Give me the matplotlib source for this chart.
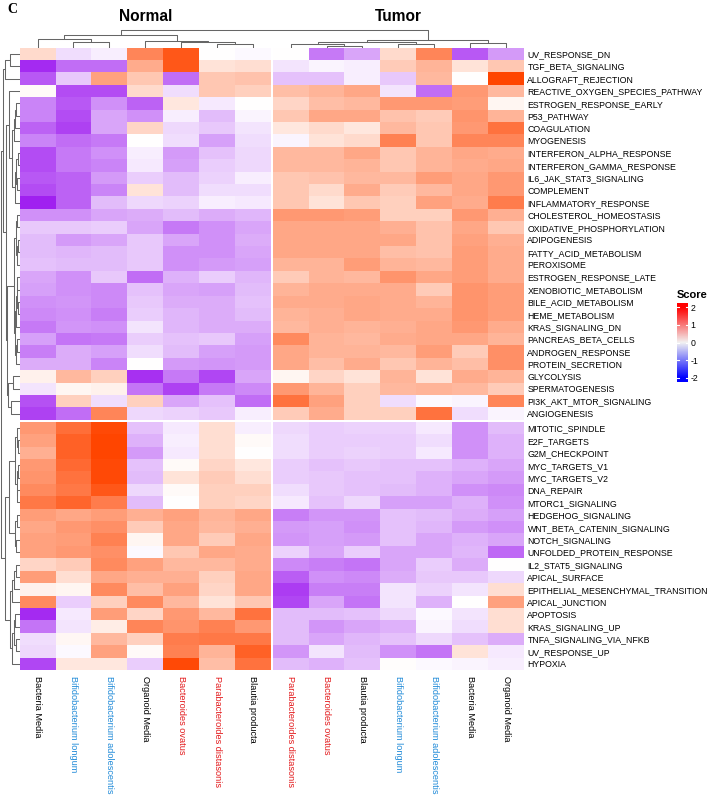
import numpy as np
import matplotlib
matplotlib.use('Agg')
import matplotlib.pyplot as plt
from matplotlib.colors import LinearSegmentedColormap

plt.rcParams['font.family'] = ['Liberation Sans', 'DejaVu Sans']

## hallmark pathways (rows, top to bottom)
pathways = ['UV_RESPONSE_DN', 'TGF_BETA_SIGNALING', 'ALLOGRAFT_REJECTION',
            'REACTIVE_OXYGEN_SPECIES_PATHWAY', 'ESTROGEN_RESPONSE_EARLY', 'P53_PATHWAY',
            'COAGULATION', 'MYOGENESIS', 'INTERFERON_ALPHA_RESPONSE',
            'INTERFERON_GAMMA_RESPONSE', 'IL6_JAK_STAT3_SIGNALING', 'COMPLEMENT',
            'INFLAMMATORY_RESPONSE', 'CHOLESTEROL_HOMEOSTASIS', 'OXIDATIVE_PHOSPHORYLATION',
            'ADIPOGENESIS', 'FATTY_ACID_METABOLISM', 'PEROXISOME', 'ESTROGEN_RESPONSE_LATE',
            'XENOBIOTIC_METABOLISM', 'BILE_ACID_METABOLISM', 'HEME_METABOLISM',
            'KRAS_SIGNALING_DN', 'PANCREAS_BETA_CELLS', 'ANDROGEN_RESPONSE',
            'PROTEIN_SECRETION', 'GLYCOLYSIS', 'SPERMATOGENESIS', 'PI3K_AKT_MTOR_SIGNALING',
            'ANGIOGENESIS', 'MITOTIC_SPINDLE', 'E2F_TARGETS', 'G2M_CHECKPOINT',
            'MYC_TARGETS_V1', 'MYC_TARGETS_V2', 'DNA_REPAIR', 'MTORC1_SIGNALING',
            'HEDGEHOG_SIGNALING', 'WNT_BETA_CATENIN_SIGNALING', 'NOTCH_SIGNALING',
            'UNFOLDED_PROTEIN_RESPONSE', 'IL2_STAT5_SIGNALING', 'APICAL_SURFACE',
            'EPITHELIAL_MESENCHYMAL_TRANSITION', 'APICAL_JUNCTION', 'APOPTOSIS',
            'KRAS_SIGNALING_UP', 'TNFA_SIGNALING_VIA_NFKB', 'UV_RESPONSE_UP', 'HYPOXIA']

## samples (columns)
normal_samples = ['Bacteria Media', 'Bifidobacterium longum', 'Bifidobacterium adolescentis',
                  'Organoid Media', 'Bacteroides ovatus', 'Parabacteroides distasonis',
                  'Blautia producta']
tumor_samples = ['Parabacteroides distasonis', 'Bacteroides ovatus', 'Blautia producta',
                 'Bifidobacterium longum', 'Bifidobacterium adolescentis', 'Bacteria Media',
                 'Organoid Media']
genus_colors = {'Bifidobacterium': '#1f8ad8', 'Bacteroides': '#e31a1c',
                'Parabacteroides': '#e31a1c'}

## scores (rows = pathways)
normal_scores = [
    [0.4, -0.3, -0.15, 1.3, 1.8, 0.0, -0.05],
    [-1.9, -1.3, -1.3, 0.9, 1.8, 0.3, 0.35],
    [-1.5, -0.5, 1.0, 0.6, -1.3, 0.6, 0.65],
    [0.05, -1.6, -1.6, 0.4, -0.3, 0.6, 0.5],
    [-1.1, -1.5, -1.0, -1.4, 0.25, -0.2, 0.0],
    [-1.1, -1.6, -0.8, -1.0, -0.15, -0.6, -0.1],
    [-1.4, -1.7, -0.8, 0.45, -0.35, -0.5, -0.25],
    [-1.1, -1.3, -1.2, 0.0, -0.3, -0.85, -0.3],
    [-1.6, -1.2, -1.0, -0.15, -0.9, -0.55, -0.35],
    [-1.6, -1.2, -1.1, -0.2, -0.85, -0.45, -0.35],
    [-1.5, -1.4, -0.9, -0.45, -0.6, -0.4, -0.15],
    [-1.6, -1.4, -1.1, 0.3, -0.6, -0.3, -0.3],
    [-2.0, -1.4, -0.6, -0.35, -0.4, -0.15, -0.2],
    [-1.0, -1.0, -0.8, -0.75, -0.6, -0.75, -0.65],
    [-0.5, -0.5, -0.45, -0.8, -1.2, -1.0, -0.8],
    [-0.6, -0.9, -0.8, -0.5, -0.8, -1.0, -0.75],
    [-0.6, -0.65, -0.6, -0.5, -1.0, -1.0, -0.8],
    [-0.55, -0.6, -0.6, -0.5, -1.0, -0.9, -0.85],
    [-0.8, -1.0, -0.5, -1.3, -0.7, -0.45, -0.65],
    [-0.85, -1.0, -1.05, -0.55, -0.8, -0.85, -0.6],
    [-1.0, -0.95, -1.05, -0.5, -0.75, -0.75, -0.55],
    [-1.05, -1.0, -1.15, -0.45, -0.65, -0.75, -0.6],
    [-1.2, -0.95, -1.0, -0.25, -0.65, -0.75, -0.75],
    [-0.85, -1.25, -1.2, -0.45, -0.55, -0.5, -0.85],
    [-1.15, -0.75, -0.85, -0.3, -0.6, -0.85, -0.9],
    [-0.75, -0.75, -1.1, 0.0, -0.9, -0.95, -0.9],
    [0.15, 0.75, 0.5, -1.85, -1.2, -1.65, -0.8],
    [-0.25, 0.1, 0.15, -1.25, -1.7, -1.2, -1.05],
    [-1.55, 0.5, -0.3, 0.5, -0.8, -0.55, -1.3],
    [-1.7, -1.3, 1.3, -0.35, -0.4, -0.5, -0.15],
    [1.1, 1.55, 1.95, -0.55, -0.2, 0.35, -0.15],
    [1.0, 1.7, 2.0, -0.7, -0.15, 0.35, 0.05],
    [0.85, 1.7, 2.0, -0.9, -0.2, 0.35, 0.0],
    [1.1, 1.6, 1.95, -0.55, 0.05, 0.45, 0.25],
    [1.15, 1.5, 1.95, -0.6, 0.3, 0.55, 0.35],
    [1.25, 1.45, 1.8, -0.35, 0.05, 0.5, 0.5],
    [1.45, 1.65, 1.4, -0.6, 0.0, 0.5, 0.45],
    [1.05, 0.95, 1.05, 0.85, 1.0, 0.8, 0.95],
    [0.95, 1.1, 1.2, 0.55, 0.95, 0.75, 0.85],
    [1.0, 1.05, 1.35, 0.1, 0.95, 0.55, 0.95],
    [1.0, 1.1, 1.2, -0.05, 0.6, 0.95, 0.9],
    [0.45, 0.55, 1.25, 1.0, 0.75, 0.75, 0.9],
    [1.05, 0.35, 0.95, 0.85, 0.85, 0.5, 0.95],
    [0.15, 0.1, 1.25, 0.7, 1.0, 0.45, 0.95],
    [1.25, -0.45, 0.5, 1.25, 0.75, 0.3, 0.6],
    [-1.9, -0.2, 1.05, 0.45, 1.1, 0.75, 1.5],
    [-1.25, -0.25, 0.2, 1.3, 1.15, 1.35, 1.1],
    [-0.3, 0.08, 0.75, 0.5, 1.4, 1.45, 1.45],
    [-0.35, -0.05, 1.0, 0.05, 1.35, 0.8, 1.7],
    [-1.65, 0.25, 0.25, -0.45, 1.95, 0.7, 1.5],
]
tumor_scores = [
    [0.0, -1.2, -0.8, 0.4, 1.3, -1.5, -0.9],
    [-0.25, -0.1, -0.15, 0.55, 0.8, 0.3, 0.6],
    [-0.55, -0.55, -0.15, -0.5, 0.75, 0.0, 2.0],
    [0.7, 0.8, 0.95, -0.25, -1.3, 1.1, 0.75],
    [0.45, 0.7, 0.75, 1.1, 1.1, 1.05, 0.1],
    [0.6, 0.95, 0.95, 0.65, 0.55, 1.15, 0.8],
    [0.25, 0.4, 0.25, 0.75, 0.6, 1.1, 1.5],
    [-0.1, 0.3, 0.4, 1.35, 0.6, 1.3, 1.3],
    [0.75, 0.75, 0.95, 0.6, 0.8, 0.95, 0.9],
    [0.75, 0.75, 0.8, 0.6, 0.8, 0.9, 0.95],
    [0.6, 0.65, 0.75, 0.75, 1.05, 0.95, 1.1],
    [0.6, 0.4, 0.9, 0.55, 0.75, 0.95, 1.1],
    [0.6, 0.3, 0.6, 0.5, 1.0, 0.9, 1.4],
    [1.1, 1.1, 1.05, 0.5, 0.5, 1.1, 0.85],
    [0.95, 0.95, 0.95, 0.85, 0.65, 0.95, 0.6],
    [0.95, 0.95, 0.95, 0.95, 0.65, 1.0, 0.85],
    [0.95, 0.95, 0.95, 0.7, 0.65, 1.05, 0.9],
    [0.8, 0.8, 1.05, 0.8, 0.75, 1.05, 0.9],
    [0.55, 0.8, 0.75, 1.15, 0.95, 1.05, 0.9],
    [0.8, 0.9, 0.9, 0.9, 0.55, 1.15, 1.05],
    [0.9, 0.9, 0.95, 0.9, 0.8, 1.15, 1.05],
    [0.8, 0.85, 0.95, 0.9, 0.9, 1.15, 1.05],
    [0.75, 0.85, 0.8, 0.85, 0.95, 1.1, 0.9],
    [1.25, 0.8, 0.75, 0.9, 0.95, 0.95, 0.8],
    [0.95, 0.8, 0.8, 0.75, 1.05, 0.55, 1.2],
    [0.95, 0.7, 0.9, 0.6, 0.8, 0.7, 1.2],
    [0.1, 0.45, 0.3, 0.8, 0.3, 0.9, 0.8],
    [1.1, 0.8, 0.5, 0.75, 0.8, 0.75, 0.55],
    [1.5, 1.0, 0.5, -0.3, -0.05, -0.1, 1.3],
    [0.55, 0.9, 0.5, 0.5, 1.5, -0.3, -0.1],
    [-0.35, -0.45, -0.4, -0.4, -0.2, -1.0, -0.6],
    [-0.3, -0.45, -0.45, -0.45, -0.3, -1.0, -0.7],
    [-0.3, -0.45, -0.4, -0.45, -0.2, -1.0, -0.7],
    [-0.45, -0.55, -0.5, -0.55, -0.55, -0.7, -0.8],
    [-0.45, -0.5, -0.55, -0.55, -0.7, -0.8, -0.9],
    [-0.3, -0.5, -0.55, -0.6, -0.7, -1.0, -1.05],
    [-0.2, -0.55, -0.35, -0.85, -0.85, -0.7, -1.0],
    [-1.15, -0.95, -0.95, -0.55, -0.6, -0.75, -0.85],
    [-0.9, -0.85, -1.0, -0.55, -0.65, -0.9, -1.0],
    [-0.95, -0.85, -0.9, -0.55, -0.8, -0.7, -0.8],
    [-0.4, -0.8, -0.45, -0.8, -0.8, -0.65, -1.35],
    [-1.05, -1.15, -1.25, -0.8, -0.45, -0.75, 0.0],
    [-1.45, -1.0, -1.05, -0.75, -0.5, -0.5, -0.35],
    [-1.75, -1.15, -1.15, -0.25, -0.4, -0.25, 0.35],
    [-1.65, -0.8, -1.25, -0.25, -0.7, 0.0, 1.0],
    [-0.6, -0.6, -0.55, -0.35, -0.05, -0.25, 0.35],
    [-0.6, -0.95, -0.8, -0.7, -0.1, -0.3, 0.35],
    [-0.6, -0.8, -0.65, -0.55, -0.35, -0.55, -0.75],
    [-0.95, -0.25, -0.6, -1.0, -1.25, 0.3, -0.2],
    [-0.6, -0.7, -0.55, 0.02, -0.05, -0.1, -0.15],
]

## dendrograms: (height, left, right), leaves are indices
col_tree = (17.5,
            (12.0, (8.2, 0, (5.5, 1, 2)), (6.5, 3, (5.1, 4, (3.7, 5, 6)))),
            (7.5, (5.8, (3.0, 7, (1.7, 8, 9)), (3.7, 10, 11)), (4.4, 12, 13)))
row_top = (17.0,
           (15.0, (9.5, 0, 1), 2),
           (14.0,
            (11.0, 3, (8.0, (5.5, (4.5, (3.5, 4, 5), 6), 7),
                            (5.0, (4.0, (2.0, 8, 9), (3.0, 10, 11)), 12))),
            (13.0,
             (5.5, (4.0, (3.0, 13, 14), (2.5, (2.0, 15, 16), 17)),
                   (4.5, (3.5, (3.0, (2.5, 18, 19), (2.0, 20, 21)), 22),
                         (3.5, (3.0, 23, 24), 25))),
             (11.5, (7.0, 26, 27), (9.0, 28, 29)))))
row_bottom = (15.0,
              (11.0, (4.5, (2.5, 30, (1.5, 31, 32)), (3.0, (2.0, 33, 34), (2.5, 35, 36))),
                     (5.0, (3.0, 37, 38), (3.5, 39, 40))),
              (10.0, (8.0, (5.5, (4.0, 41, 42), 43), 44),
                     (7.5, (6.0, (5.0, 45, 46), (4.0, 47, 48)), 49)))
row_tree = (18.5, row_top, row_bottom)

legend_ticks = [-2, -1, 0, 1, 2]

scores = np.hstack([np.array(normal_scores), np.array(tumor_scores)])
samples = normal_samples + tumor_samples
n_rows, n_cols = scores.shape

cell_cmap = LinearSegmentedColormap.from_list('po', ['#A020F0', '#FFFFFF', '#FF4500'])
legend_cmap = LinearSegmentedColormap.from_list('bwr2', ['#0000FF', '#F2F2F2', '#FF0000'])

W, H = 708, 797
fig = plt.figure(figsize=(W / 100, H / 100), dpi=100)

gx, gy = 0.05, 0.16  # white split lines
hl, hr, ht, hb = 19.6, 524, 47.5, 670

ax = fig.add_axes([hl / W, 1 - hb / H, (hr - hl) / W, (hb - ht) / H])
grid = np.insert(scores, 7, np.nan, axis=1)
grid = np.insert(grid, 30, np.nan, axis=0)
xe = np.r_[np.arange(8), np.arange(7, 15) + gx]
ye = np.r_[np.arange(31), np.arange(30, 51) + gy]
ax.pcolormesh(xe, ye, np.ma.masked_invalid(grid), cmap=cell_cmap, vmin=-2, vmax=2,
              shading='flat', antialiased=False)
ax.set_xlim(0, n_cols + gx)
ax.set_ylim(n_rows + gy, 0)
for s in ax.spines.values():
    s.set_visible(False)

col_pos = np.arange(n_cols) + 0.5 + np.where(np.arange(n_cols) >= 7, gx, 0)
row_pos = np.arange(n_rows) + 0.5 + np.where(np.arange(n_rows) >= 30, gy, 0)

ax.set_xticks(col_pos)
ax.set_xticklabels(samples, rotation=-90, fontsize=6.6, va='top', ha='center')
for lab, name in zip(ax.get_xticklabels(), samples):
    lab.set_color(genus_colors.get(name.split()[0], 'black'))
ax.tick_params(axis='x', length=0, pad=4.5)

ax.yaxis.tick_right()
ax.set_yticks(row_pos)
ax.set_yticklabels(pathways, fontsize=6.3)
ax.tick_params(axis='y', length=0, pad=2.5)


def draw_tree(dax, node, pos, vertical):
    if isinstance(node, int):
        return pos[node], 0.0
    h, left, right = node
    c1, h1 = draw_tree(dax, left, pos, vertical)
    c2, h2 = draw_tree(dax, right, pos, vertical)
    a = [c1, c1, c2, c2]
    b = [h1, h, h, h2]
    if vertical:
        dax.plot(a, b, color='#666666', lw=0.75, solid_capstyle='butt')
    else:
        dax.plot(b, a, color='#666666', lw=0.75, solid_capstyle='butt')
    return (c1 + c2) / 2, h


## column dendrogram
axc = fig.add_axes([hl / W, 1 - ht / H, (hr - hl) / W, 18.5 / H])
draw_tree(axc, col_tree, col_pos, True)
axc.set_xlim(0, n_cols + gx)
axc.set_ylim(0, 18.5)
axc.axis('off')

## row dendrogram
axr = fig.add_axes([0, 1 - hb / H, hl / W, (hb - ht) / H])
draw_tree(axr, row_tree, row_pos, False)
axr.set_xlim(hl, 0)
axr.set_ylim(n_rows + gy, 0)
axr.axis('off')

## titles
fig.text(145.3 / W, 1 - 16.5 / H, 'Normal', ha='center', va='center',
         fontsize=11.2, fontweight='bold')
fig.text(398.5 / W, 1 - 16.5 / H, 'Tumor', ha='center', va='center',
         fontsize=11.2, fontweight='bold')
fig.text(7 / W, 1 - 9.5 / H, 'C', ha='left', va='center', fontsize=10,
         fontweight='bold', family='Liberation Serif')

## legend
axl = fig.add_axes([677 / W, 1 - 382 / H, 11 / W, 79 / H])
lim = 2.23
axl.imshow(np.linspace(-lim, lim, 256)[:, None], cmap=legend_cmap, vmin=-2, vmax=2,
           aspect='auto', origin='lower', extent=[0, 1, -lim, lim])
for t in legend_ticks:
    axl.plot([0, 0.22], [t, t], color='white', lw=0.8)
    axl.plot([0.78, 1], [t, t], color='white', lw=0.8)
axl.set_xlim(0, 1)
axl.set_ylim(-lim, lim)
axl.set_xticks([])
axl.yaxis.tick_right()
axl.set_yticks(legend_ticks)
axl.set_yticklabels([str(t) for t in legend_ticks], fontsize=6.3)
axl.tick_params(axis='y', length=0, pad=2)
for s in axl.spines.values():
    s.set_visible(False)
fig.text(677 / W, 1 - 295 / H, 'Score', ha='left', va='center', fontsize=8,
         fontweight='bold')

fig.savefig('out.png', dpi=100)
